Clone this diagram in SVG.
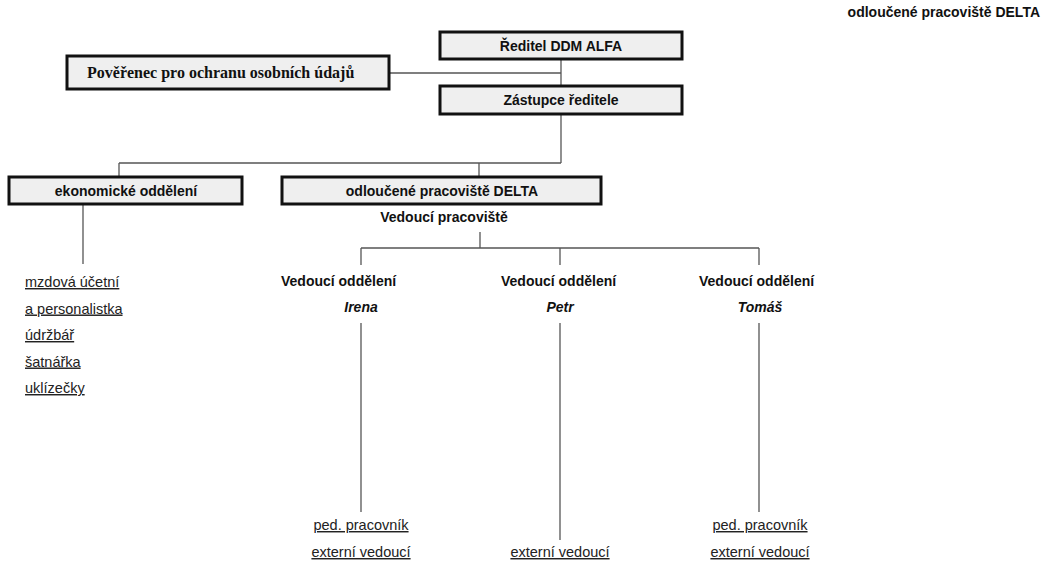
<svg xmlns="http://www.w3.org/2000/svg" width="1046" height="561" viewBox="0 0 1046 561">
<style>
.box{fill:#efefef;stroke:#111;stroke-width:3}
.b{font-family:"Liberation Sans",Arial,sans-serif;font-size:14px;font-weight:bold;fill:#111}
.bi{font-family:"Liberation Sans",Arial,sans-serif;font-size:14px;font-weight:bold;font-style:italic;fill:#111}
.r{font-family:"Liberation Sans",Arial,sans-serif;font-size:14.5px;fill:#222;text-decoration:underline}
.t{font-family:"Liberation Serif","Times New Roman",serif;font-size:16px;font-weight:bold;fill:#111}
.c{text-anchor:middle}
#connectors line{stroke:#555;stroke-width:1.3}
</style>
<rect width="1046" height="561" fill="#fff"/>
<g id="connectors">
<line x1="561" y1="59" x2="561" y2="86"/>
<line x1="389" y1="73" x2="561" y2="73"/>
<line x1="561" y1="114" x2="561" y2="163"/>
<line x1="119" y1="163" x2="561" y2="163"/>
<line x1="119" y1="163" x2="119" y2="177"/>
<line x1="479" y1="163" x2="479" y2="177"/>
<line x1="83" y1="204" x2="83" y2="264"/>
<line x1="480" y1="232" x2="480" y2="248"/>
<line x1="361" y1="248" x2="759" y2="248"/>
<line x1="361" y1="248" x2="361" y2="265"/>
<line x1="560" y1="248" x2="560" y2="265"/>
<line x1="759" y1="248" x2="759" y2="265"/>
<line x1="361" y1="323" x2="361" y2="512"/>
<line x1="560" y1="323" x2="560" y2="540"/>
<line x1="759" y1="323" x2="759" y2="512"/>
</g>
<g id="header"><text class="b" x="1040" y="17" text-anchor="end">odloučené pracoviště DELTA</text></g>
<g id="reditel"><rect class="box" x="440" y="32" width="242" height="27"/><text class="b c" x="561" y="51">Ředitel DDM ALFA</text></g>
<g id="poverenec"><rect class="box" x="67" y="56" width="322" height="33"/><text class="t" x="87" y="78">Pověřenec pro ochranu osobních údajů</text></g>
<g id="zastupce"><rect class="box" x="440" y="86" width="242" height="28"/><text class="b c" x="561" y="105">Zástupce ředitele</text></g>
<g id="ekonomicke"><rect class="box" x="9" y="177" width="233" height="27"/><text class="b c" x="126" y="196">ekonomické oddělení</text></g>
<g id="delta"><rect class="box" x="282" y="177" width="319" height="27"/><text class="b c" x="442" y="196">odloučené pracoviště DELTA</text><text class="b c" x="444" y="222">Vedoucí pracoviště</text></g>
<g id="ekonomicke-staff">
<text class="r" x="25" y="287">mzdová účetní</text>
<text class="r" x="25" y="313.5">a personalistka</text>
<text class="r" x="25" y="340">údržbář</text>
<text class="r" x="25" y="366.5">šatnářka</text>
<text class="r" x="25" y="393">uklízečky</text>
</g>
<g id="irena"><text class="b" x="281" y="286">Vedoucí oddělení</text><text class="bi c" x="361" y="312">Irena</text></g>
<g id="petr"><text class="b" x="501" y="286">Vedoucí oddělení</text><text class="bi c" x="560" y="312">Petr</text></g>
<g id="tomas"><text class="b" x="699" y="286">Vedoucí oddělení</text><text class="bi c" x="760" y="312">Tomáš</text></g>
<g id="irena-staff"><text class="r c" x="361" y="530">ped. pracovník</text><text class="r c" x="361" y="557">externí vedoucí</text></g>
<g id="petr-staff"><text class="r c" x="560" y="557">externí vedoucí</text></g>
<g id="tomas-staff"><text class="r c" x="760" y="530">ped. pracovník</text><text class="r c" x="760" y="557">externí vedoucí</text></g>
</svg>
